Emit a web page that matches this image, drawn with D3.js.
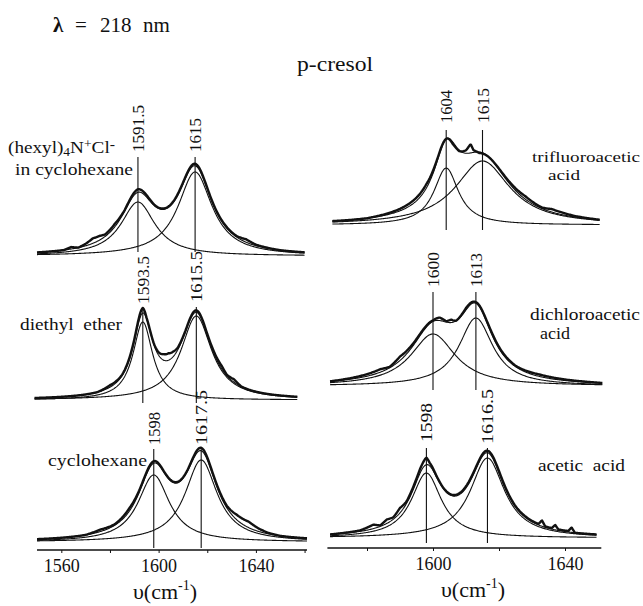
<!DOCTYPE html>
<html><head><meta charset="utf-8">
<script src="https://cdn.jsdelivr.net/npm/d3@7"></script>
<style>body{margin:0;background:#fff} svg{display:block} svg text{font-family:"Liberation Serif","DejaVu Serif",serif;fill:#111}</style>
</head><body>
<svg id="c" width="643" height="606" font-family="Liberation Serif, DejaVu Serif, serif"></svg>
<script>
// ---------------- data ----------------
const wavelengthLabel = "218";
const compound = "p-cresol";
const solvents = ["(hexyl)4N+Cl- in cyclohexane", "diethyl ether", "cyclohexane",
                  "trifluoroacetic acid", "dichloroacetic acid", "acetic acid"];
const peakLabels = [["1591.5","1615"],["1593.5","1615.5"],["1598","1617.5"],
                    ["1604","1615"],["1600","1613"],["1598","1616.5"]];
// fitted Lorentzian bands: centre (cm-1), height (a.u.), half width (cm-1)
const bandCenters = [[1591.5,1615],[1593.5,1615.5],[1598,1617.5],[1604,1615],[1600,1613],[1598,1616.5]];
const bandHeights = [[54,84],[78,84],[67,82],[57,64],[52,68],[65,80]];
const bandWidths  = [[8.5,8.5],[4.9,7.65],[7.8,8.0],[4.5,10],[8.2,6.2],[5.5,6.3]];
const spectrumRange = [[1550,1660],[1549,1657],[1550,1661],[1569.5,1650.5],[1568.8,1651.5],[1568.8,1649.7]];
// observed minus fit, read at selected wavenumbers [cm-1, a.u.]
const residuals = [
  [[1550,0],[1561,0],[1564,2],[1567,0],[1570,2],[1573,5],[1576,4],[1578,2],[1582,3],[1586,1],[1591.5,3],[1598,1],[1606,1],[1615,2],[1622,1],[1632,1],[1636,3],[1640,1],[1650,0],[1660,0]],
  [[1549,0],[1575,0],[1580,2],[1585,1],[1590,2],[1593.5,5],[1595,1],[1598,1],[1600,3],[1602,6],[1604,7],[1606,5],[1608,2],[1611,1],[1615.5,2],[1620,1],[1626,3],[1628,1],[1631,3],[1634,0],[1657,0]],
  [[1550,0],[1570,0],[1576,2],[1582,1],[1588,3],[1592,2],[1598,2],[1602,1],[1606,1],[1612,1],[1617.5,3],[1622,2],[1628,2],[1632,5],[1637,6],[1641,3],[1645,1],[1650,0],[1661,0]],
  [[1569.5,0],[1580,0],[1585,1],[1590,2],[1594,3],[1598,4],[1601,2],[1603,1],[1604.3,0],[1606,-2],[1608,-1],[1610,3],[1611.4,9],[1612.3,2],[1614,-1],[1620,1],[1628,3],[1633,1],[1636,3],[1643,1],[1650.5,0]],
  [[1568.8,0],[1575,1],[1580,2],[1584,3],[1587,1],[1590,4],[1594,2],[1600,1],[1602,3],[1604,1],[1605.5,3],[1607,0],[1610,2],[1613,1],[1618,2],[1625,1],[1632,2],[1640,1],[1651.5,0]],
  [[1568.8,0],[1578,1],[1582,4],[1584,1],[1586,4],[1588,2],[1590,5],[1592,2],[1595,3],[1597,5],[1598,7],[1599,3],[1601,1],[1606,1],[1612,2],[1616.5,2],[1620,2],[1625,1],[1632,1],[1633,6],[1634,1],[1636,1],[1637,5],[1638,1],[1641,1],[1642,5],[1643,0],[1649.7,0]]
];
const tickLabelsLeft = [1560,1600,1640];
const tickLabelsRight = [1600,1640];
const minorTicksLeft = [1560,1580,1600,1620,1640,1660];
const minorTicksRight = [1580,1600,1620,1640];

// ---------------- layout ----------------
const FONT = "Liberation Serif, DejaVu Serif, serif";
const svg = d3.select("#c");
const cols = [
  {x: d3.scaleLinear().domain([1550,1661]).range([37,307]), axisY:550, ticks:tickLabelsLeft, minor:minorTicksLeft, titleX:165, titleY:599},
  {x: d3.scaleLinear().domain([1568,1651]).range([327.4,601.3]), axisY:548, ticks:tickLabelsRight, minor:minorTicksRight, titleX:473, titleY:597}
];
const panelLayout = [
  {y0:256, lineTop:157, lineBot:252, labBot:[152,152], labLen:[47,34]},
  {y0:400, lineTop:307, lineBot:403, labBot:[304,302], labLen:[48,51]},
  {y0:542, lineTop:449, lineBot:548, labBot:[445,445], labLen:[33,55]},
  {y0:225, lineTop:130, lineBot:230, labBot:[123,123], labLen:[33,35]},
  {y0:386, lineTop:292, lineBot:390, labBot:[287,287], labLen:[35,34]},
  {y0:538, lineTop:448, lineBot:543, labBot:[442,444], labLen:[39,55]}
];

const lor = (x,c,h,w) => h/(1+((x-c)/w)**2);

bandCenters.forEach((centers,i)=>{
  const col = cols[i<3?0:1];
  const L = panelLayout[i];
  const xs = col.x;
  const ys = d3.scaleLinear().domain([0,100]).range([L.y0, L.y0-100]);
  const [a,b] = spectrumRange[i];
  const grid = d3.range(a, b+0.0001, 0.25);
  const comps = centers.map((c,k)=>grid.map(x=>[x, lor(x,c,bandHeights[i][k],bandWidths[i][k])]));
  const fit = grid.map((x,j)=>[x, d3.sum(comps, cc=>cc[j][1])]);
  const res = d3.scaleLinear().domain(residuals[i].map(d=>d[0])).range(residuals[i].map(d=>d[1])).clamp(true);
  const obs = fit.map(([x,y])=>[x, y+res(x)]);
  const line = d3.line().x(d=>xs(d[0])).y(d=>ys(d[1]));
  const g = svg.append("g");
  comps.forEach(cc=>g.append("path").attr("d",line(cc)).attr("fill","none").attr("stroke","#111").attr("stroke-width",1.1));
  g.append("path").attr("d",line(fit)).attr("fill","none").attr("stroke","#111").attr("stroke-width",1.1);
  g.append("path").attr("d",line(obs)).attr("fill","none").attr("stroke","#111").attr("stroke-width",2.4).attr("stroke-linejoin","round");
  centers.forEach((c,k)=>{
    const px = xs(c);
    g.append("line").attr("x1",px).attr("x2",px).attr("y1",L.lineTop).attr("y2",L.lineBot)
      .attr("stroke","#111").attr("stroke-width",1.1);
    g.append("text").attr("transform",`translate(${px+6},${L.labBot[k]}) rotate(-90)`)
      .attr("font-family",FONT).attr("font-size",17).attr("textLength",L.labLen[k]).attr("lengthAdjust","spacingAndGlyphs")
      .text(peakLabels[i][k]);
  });
});

// axes
cols.forEach(col=>{
  const ax = d3.axisBottom(col.x).tickValues(col.minor).tickSize(3)
    .tickFormat(d=>col.ticks.includes(d)?d:"");
  const g = svg.append("g").attr("transform",`translate(0,${col.axisY})`).call(ax);
  g.attr("font-family",FONT);
  g.select(".domain").attr("stroke","#111").attr("stroke-width",1.5).attr("d",`M${col.x.range()[0]},0H${col.x.range()[1]}`);
  g.selectAll(".tick line").attr("stroke","#111");
  g.selectAll(".tick text").attr("font-family",FONT).attr("font-size",18).attr("fill","#111").attr("dy","0.9em");
  const t = svg.append("text").attr("x",col.titleX).attr("y",col.titleY).attr("text-anchor","middle").attr("font-family",FONT).attr("font-size",22);
  t.append("tspan").text("υ(cm");
  t.append("tspan").attr("font-size",14).attr("dy",-9).text("-1");
  t.append("tspan").attr("dy",9).text(")");
});

// titles
const ttl = svg.append("text").attr("y",32).attr("font-size",21).attr("font-family",FONT);
ttl.append("tspan").attr("x",53).attr("font-weight","bold").text("λ");
ttl.append("tspan").attr("x",75).text("=");
ttl.append("tspan").attr("x",100).text(wavelengthLabel);
ttl.append("tspan").attr("x",143).text("nm");
svg.append("text").attr("x",297).attr("y",71).attr("font-family",FONT).attr("font-size",20).attr("textLength",76).attr("lengthAdjust","spacingAndGlyphs").text(compound);

// solvent labels
const s0 = svg.append("text").attr("x",8).attr("y",153).attr("font-family",FONT).attr("font-size",17).attr("textLength",107).attr("lengthAdjust","spacingAndGlyphs");
s0.append("tspan").text("(hexyl)");
s0.append("tspan").attr("font-size",12).attr("dy",3).text("4");
s0.append("tspan").attr("dy",-3).text("N");
s0.append("tspan").attr("font-size",12).attr("dy",-5).text("+");
s0.append("tspan").attr("dy",5).text("Cl");
s0.append("tspan").attr("font-size",14).attr("dy",-4).text("-");
svg.append("text").attr("x",15).attr("y",175).attr("font-family",FONT).attr("font-size",16).attr("textLength",118).attr("lengthAdjust","spacingAndGlyphs").text("in cyclohexane");
const labs = [
  {t:"diethyl  ether", x:20, y:330, w:102, s:16},
  {t:"cyclohexane", x:48, y:466, w:99, s:16},
  {t:"trifluoroacetic", x:532, y:162, w:108, s:15},
  {t:"acid", x:548, y:180, w:32, s:15},
  {t:"dichloroacetic", x:530, y:320, w:110, s:16},
  {t:"acid", x:540, y:339, w:30, s:16},
  {t:"acetic  acid", x:538, y:471, w:87, s:16}
];
labs.forEach(l=>svg.append("text").attr("x",l.x).attr("y",l.y).attr("font-family",FONT).attr("font-size",l.s)
  .attr("textLength",l.w).attr("lengthAdjust","spacingAndGlyphs").style("white-space","pre").text(l.t));
</script>
</body></html>
